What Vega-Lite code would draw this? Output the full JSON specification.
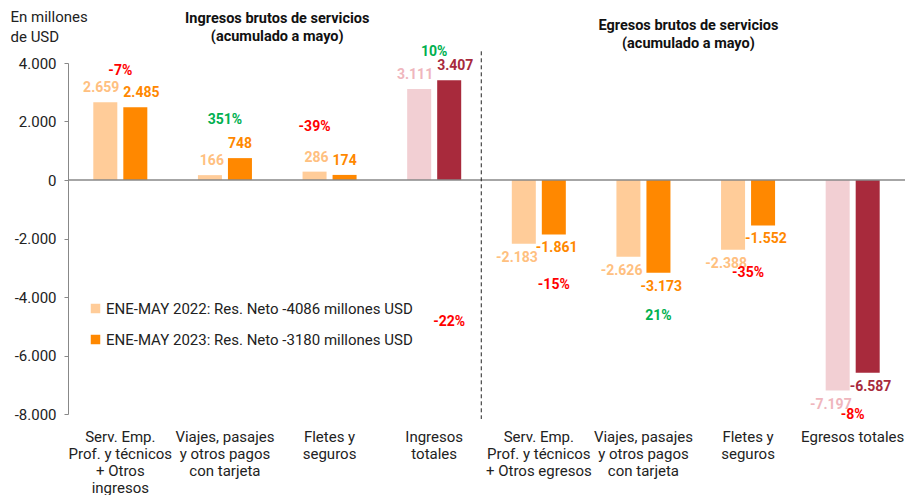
{
  "$schema": "https://vega.github.io/schema/vega-lite/v6.json",
  "width": 837,
  "height": 351,
  "autosize": {"type": "none"},
  "padding": {"left": 68, "top": 63, "right": 0, "bottom": 81},
  "config": {
    "font": "Roboto",
    "view": {"stroke": null},
    "locale": {"number": {"decimal": ",", "thousands": ".", "grouping": [3], "currency": ["$", ""], "minus": "-"}}
  },
  "datasets": {
    "barras": [
      {"cat": "Ingresos|Serv. Emp.|Prof. y técnicos|+ Otros|ingresos", "anio": "2022", "tipo": "2022", "valor": 2659},
      {"cat": "Ingresos|Serv. Emp.|Prof. y técnicos|+ Otros|ingresos", "anio": "2023", "tipo": "2023", "valor": 2485},
      {"cat": "Ingresos|Viajes, pasajes|y otros pagos|con tarjeta", "anio": "2022", "tipo": "2022", "valor": 166},
      {"cat": "Ingresos|Viajes, pasajes|y otros pagos|con tarjeta", "anio": "2023", "tipo": "2023", "valor": 748},
      {"cat": "Ingresos|Fletes y|seguros", "anio": "2022", "tipo": "2022", "valor": 286},
      {"cat": "Ingresos|Fletes y|seguros", "anio": "2023", "tipo": "2023", "valor": 174},
      {"cat": "Ingresos|Ingresos|totales", "anio": "2022", "tipo": "2022 total", "valor": 3111},
      {"cat": "Ingresos|Ingresos|totales", "anio": "2023", "tipo": "2023 total", "valor": 3407},
      {"cat": "Egresos|Serv. Emp.|Prof. y técnicos|+ Otros egresos", "anio": "2022", "tipo": "2022", "valor": -2183},
      {"cat": "Egresos|Serv. Emp.|Prof. y técnicos|+ Otros egresos", "anio": "2023", "tipo": "2023", "valor": -1861},
      {"cat": "Egresos|Viajes, pasajes|y otros pagos|con tarjeta", "anio": "2022", "tipo": "2022", "valor": -2626},
      {"cat": "Egresos|Viajes, pasajes|y otros pagos|con tarjeta", "anio": "2023", "tipo": "2023", "valor": -3173},
      {"cat": "Egresos|Fletes y|seguros", "anio": "2022", "tipo": "2022", "valor": -2388},
      {"cat": "Egresos|Fletes y|seguros", "anio": "2023", "tipo": "2023", "valor": -1552},
      {"cat": "Egresos|Egresos totales", "anio": "2022", "tipo": "2022 total", "valor": -7197},
      {"cat": "Egresos|Egresos totales", "anio": "2023", "tipo": "2023 total", "valor": -6587}
    ],
    "pct": [
      {"cat": "Ingresos|Serv. Emp.|Prof. y técnicos|+ Otros|ingresos", "pct": "-7%", "y": 3710, "anio": null},
      {"cat": "Ingresos|Viajes, pasajes|y otros pagos|con tarjeta", "pct": "351%", "y": 2068, "anio": null},
      {"cat": "Ingresos|Fletes y|seguros", "pct": "-39%", "y": 1829, "anio": "2022"},
      {"cat": "Ingresos|Ingresos|totales", "pct": "10%", "y": 4359, "anio": null},
      {"cat": "Ingresos|Ingresos|totales", "pct": "-22%", "y": -4838, "anio": "2023"},
      {"cat": "Egresos|Serv. Emp.|Prof. y técnicos|+ Otros egresos", "pct": "-15%", "y": -3573, "anio": "2023"},
      {"cat": "Egresos|Viajes, pasajes|y otros pagos|con tarjeta", "pct": "21%", "y": -4633, "anio": "2023"},
      {"cat": "Egresos|Fletes y|seguros", "pct": "-35%", "y": -3163, "anio": null},
      {"cat": "Egresos|Egresos totales", "pct": "-8%", "y": -8051, "anio": null}
    ]
  },
  "encoding": {
    "x": {
      "field": "cat",
      "type": "nominal",
      "sort": null,
      "scale": {
        "domain": [
          "Ingresos|Serv. Emp.|Prof. y técnicos|+ Otros|ingresos",
          "Ingresos|Viajes, pasajes|y otros pagos|con tarjeta",
          "Ingresos|Fletes y|seguros",
          "Ingresos|Ingresos|totales",
          "Egresos|Serv. Emp.|Prof. y técnicos|+ Otros egresos",
          "Egresos|Viajes, pasajes|y otros pagos|con tarjeta",
          "Egresos|Fletes y|seguros",
          "Egresos|Egresos totales"
        ],
        "paddingInner": 0,
        "paddingOuter": 0
      },
      "axis": {
        "title": null,
        "labelAngle": 0,
        "domain": false,
        "ticks": false,
        "labelPadding": 15,
        "labelFontSize": 15,
        "labelColor": "#222222",
        "labelLineHeight": 17,
        "labelLimit": 200,
        "labelExpr": "slice(split(datum.value, '|'), 1)"
      }
    }
  },
  "layer": [
    {
      "data": {"name": "barras"},
      "mark": {"type": "bar"},
      "encoding": {
        "xOffset": {"field": "anio", "type": "nominal", "scale": {"domain": ["2022", "2023"], "paddingInner": 0.2, "paddingOuter": 0.843}},
        "y": {
          "field": "valor",
          "type": "quantitative",
          "scale": {"domain": [-8000, 4000], "nice": false},
          "axis": {
            "values": [-8000, -6000, -4000, -2000, 0, 2000, 4000],
            "format": ",d",
            "grid": false,
            "domainColor": "#888888",
            "tickColor": "#888888",
            "tickSize": 4,
            "labelPadding": 8,
            "labelFontSize": 15,
            "labelColor": "#222222",
            "title": ["En millones", "de USD"],
            "titleAngle": 0,
            "titleAlign": "left",
            "titleBaseline": "top",
            "titleX": -58,
            "titleY": -54,
            "titleFontSize": 15,
            "titleFontWeight": "normal",
            "titleColor": "#222222",
            "titleLineHeight": 20
          }
        },
        "color": {
          "field": "tipo",
          "type": "nominal",
          "scale": {
            "domain": ["2022", "2023", "2022 total", "2023 total"],
            "range": ["#FFCC99", "#FF8800", "#F2CFD3", "#A82A3C"]
          },
          "legend": {
            "values": ["2022", "2023"],
            "title": null,
            "orient": "none",
            "legendX": 20,
            "legendY": 238,
            "symbolType": "square",
            "symbolSize": 90,
            "symbolStrokeWidth": 0,
            "labelFontSize": 15,
            "labelColor": "#222222",
            "labelLimit": 400,
            "rowPadding": 15,
            "labelOffset": 3,
            "labelExpr": "datum.value == '2022' ? 'ENE-MAY 2022: Res. Neto -4086 millones USD' : 'ENE-MAY 2023: Res. Neto -3180 millones USD'"
          }
        }
      }
    },
    {
      "data": {"values": [{}]},
      "mark": {"type": "rule", "color": "#888888", "strokeWidth": 1.5},
      "encoding": {"x": null, "y": {"datum": 0, "type": "quantitative"}}
    },
    {
      "data": {"values": [{}]},
      "mark": {"type": "rule", "color": "#222222", "strokeWidth": 1, "strokeDash": [4, 3]},
      "encoding": {
        "x": {"datum": "Egresos|Serv. Emp.|Prof. y técnicos|+ Otros egresos", "bandPosition": -0.05},
        "y": {"datum": 4400, "type": "quantitative"},
        "y2": {"datum": -8170}
      }
    },
    {
      "data": {"name": "barras"},
      "transform": [{"filter": "datum.valor >= 0 && datum.anio == '2022'"}],
      "mark": {"type": "text", "fontWeight": "bold", "fontSize": 14, "baseline": "middle", "align": "right", "dx": 14, "dy": -14},
      "encoding": {
        "xOffset": {"field": "anio", "type": "nominal"},
        "y": {"field": "valor", "type": "quantitative"},
        "text": {"field": "valor", "type": "quantitative", "format": ",d"},
        "color": {"condition": {"test": "datum.tipo == '2022'", "value": "#FFC080"}, "value": "#EFB6BD"}
      }
    },
    {
      "data": {"name": "barras"},
      "transform": [{"filter": "datum.valor < 0 && datum.anio == '2022'"}],
      "mark": {"type": "text", "fontWeight": "bold", "fontSize": 14, "baseline": "middle", "align": "right", "dx": 14, "dy": 14},
      "encoding": {
        "xOffset": {"field": "anio", "type": "nominal"},
        "y": {"field": "valor", "type": "quantitative"},
        "text": {"field": "valor", "type": "quantitative", "format": ",d"},
        "color": {"condition": {"test": "datum.tipo == '2022'", "value": "#FFC080"}, "value": "#EFB6BD"}
      }
    },
    {
      "data": {"name": "barras"},
      "transform": [{"filter": "datum.valor >= 0 && datum.anio == '2023'"}],
      "mark": {"type": "text", "fontWeight": "bold", "fontSize": 14, "baseline": "middle", "align": "left", "dx": -12, "dy": -14},
      "encoding": {
        "xOffset": {"field": "anio", "type": "nominal"},
        "y": {"field": "valor", "type": "quantitative"},
        "text": {"field": "valor", "type": "quantitative", "format": ",d"},
        "color": {"condition": {"test": "datum.tipo == '2023'", "value": "#FF8800"}, "value": "#A82A3C"}
      }
    },
    {
      "data": {"name": "barras"},
      "transform": [{"filter": "datum.valor < 0 && datum.anio == '2023'"}],
      "mark": {"type": "text", "fontWeight": "bold", "fontSize": 14, "baseline": "middle", "align": "left", "dx": -18, "dy": 14},
      "encoding": {
        "xOffset": {"field": "anio", "type": "nominal"},
        "y": {"field": "valor", "type": "quantitative"},
        "text": {"field": "valor", "type": "quantitative", "format": ",d"},
        "color": {"condition": {"test": "datum.tipo == '2023'", "value": "#FF8800"}, "value": "#A82A3C"}
      }
    },
    {
      "data": {"name": "pct"},
      "transform": [{"filter": "datum.anio == null"}],
      "mark": {"type": "text", "fontWeight": "bold", "fontSize": 14, "baseline": "middle"},
      "encoding": {
        "y": {"field": "y", "type": "quantitative"},
        "text": {"field": "pct"},
        "color": {"condition": {"test": "indexof(datum.pct, '-') == 0", "value": "#FF0000"}, "value": "#00B050"}
      }
    },
    {
      "data": {"name": "pct"},
      "transform": [{"filter": "datum.anio != null"}],
      "mark": {"type": "text", "fontWeight": "bold", "fontSize": 14, "baseline": "middle"},
      "encoding": {
        "xOffset": {"field": "anio", "type": "nominal"},
        "y": {"field": "y", "type": "quantitative"},
        "text": {"field": "pct"},
        "color": {"condition": {"test": "indexof(datum.pct, '-') == 0", "value": "#FF0000"}, "value": "#00B050"}
      }
    },
    {
      "data": {"values": [{}]},
      "mark": {"type": "text", "fontWeight": "bold", "fontSize": 14.5, "baseline": "middle", "lineBreak": "\n", "lineHeight": 18, "color": "#111111"},
      "encoding": {
        "x": {"datum": "Ingresos|Viajes, pasajes|y otros pagos|con tarjeta", "bandPosition": 1},
        "y": {"datum": 5505, "type": "quantitative"},
        "text": {"value": "Ingresos brutos de servicios\n(acumulado a mayo)"}
      }
    },
    {
      "data": {"values": [{}]},
      "mark": {"type": "text", "fontWeight": "bold", "fontSize": 14.5, "baseline": "middle", "lineBreak": "\n", "lineHeight": 18, "color": "#111111"},
      "encoding": {
        "x": {"datum": "Egresos|Viajes, pasajes|y otros pagos|con tarjeta", "bandPosition": 0.93},
        "y": {"datum": 5266, "type": "quantitative"},
        "text": {"value": "Egresos brutos de servicios\n(acumulado a mayo)"}
      }
    }
  ]
}
